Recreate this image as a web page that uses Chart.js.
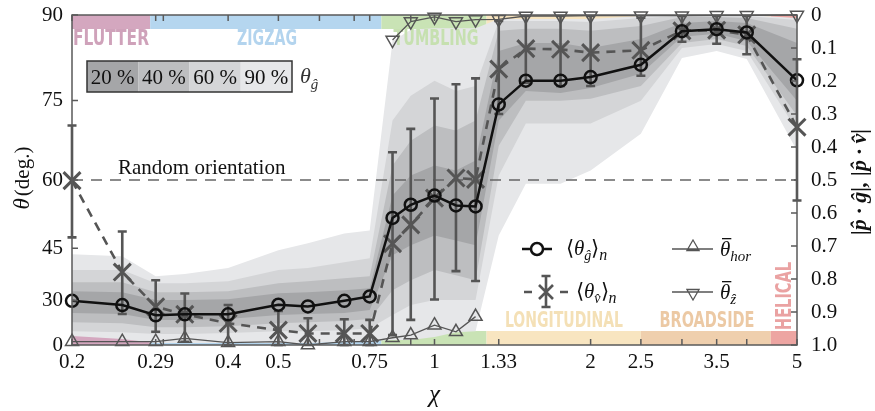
<!DOCTYPE html>
<html>
<head>
<meta charset="utf-8">
<script src="https://cdn.jsdelivr.net/npm/chart.js@4/dist/chart.umd.min.js"></script>
<style>
  html, body { margin: 0; padding: 0; background: #fff; }
  canvas { display: block; }
</style>
</head>
<body>
<canvas id="chart" width="875" height="411"></canvas>
<script>
// all values are in |p.g| units (= cos theta), i.e. the right-hand axis
const chi = [0.2, 0.25, 0.29, 0.33, 0.4, 0.5, 0.57, 0.67, 0.75, 0.83, 0.9, 1, 1.1, 1.2, 1.33, 1.5, 1.75, 2, 2.5, 3, 3.5, 4, 5];

const thetaG = [0.866, 0.879, 0.910, 0.907, 0.907, 0.878, 0.883, 0.866, 0.853, 0.615, 0.575, 0.547, 0.577, 0.580, 0.271, 0.199, 0.199, 0.188, 0.151, 0.049, 0.043, 0.053, 0.198];
const thetaV = [0.502, 0.779, 0.884, 0.907, 0.934, 0.955, 0.965, 0.965, 0.965, 0.693, 0.636, 0.555, 0.494, 0.498, 0.164, 0.102, 0.104, 0.114, 0.107, 0.048, 0.046, 0.060, 0.340];
const thetaVLow = [0.335, 0.656, 0.804, 0.844, 0.879, 0.897, 0.919, 0.922, 0.924, 0.416, 0.345, 0.253, 0.210, 0.192, 0.018, 0.003, 0.003, 0.003, 0.008, 0.003, 0.003, 0.003, 0.134];
const thetaVHigh = [0.674, 0.906, 0.960, 0.990, 1.0, 1.0, 1.0, 1.0, 1.0, 0.970, 0.924, 0.862, 0.776, 0.806, 0.300, 0.205, 0.215, 0.215, 0.184, 0.081, 0.087, 0.119, 0.562];

const chiHor = chi.slice(0, 14);
const thetaHor = [0.990, 0.990, 0.990, 0.980, 0.993, 0.990, 1.0, 0.990, 0.990, 0.978, 0.970, 0.940, 0.960, 0.914];
const chiZ = chi.slice(9);
const thetaZ = [0.076, 0.020, 0.006, 0.020, 0.014, 0.013, 0.003, 0.003, 0.002, 0.002, 0.002, 0.001, 0.001, 0.0];

// percentile envelopes of theta_g
const band90Top = [0.725, 0.731, 0.792, 0.785, 0.767, 0.713, 0.692, 0.662, 0.653, 0.079, 0.045, 0.040, 0.040, 0.040, 0.012, 0.012, 0.012, 0.012, 0.003, 0, 0, 0, 0.009];
const band60Top = [0.773, 0.773, 0.813, 0.813, 0.807, 0.773, 0.767, 0.749, 0.737, 0.320, 0.245, 0.199, 0.230, 0.215, 0.018, 0.018, 0.018, 0.021, 0.009, 0.003, 0.003, 0.003, 0.015];
const band40Top = [0.810, 0.810, 0.840, 0.840, 0.837, 0.813, 0.807, 0.798, 0.792, 0.456, 0.381, 0.335, 0.350, 0.320, 0.048, 0.042, 0.042, 0.048, 0.033, 0.006, 0.006, 0.009, 0.042];
const band20Top = [0.837, 0.840, 0.864, 0.864, 0.861, 0.843, 0.840, 0.834, 0.828, 0.547, 0.486, 0.456, 0.471, 0.441, 0.109, 0.085, 0.085, 0.100, 0.073, 0.024, 0.018, 0.024, 0.085];
const band20Bot = [0.903, 0.906, 0.924, 0.924, 0.921, 0.909, 0.906, 0.903, 0.894, 0.728, 0.698, 0.668, 0.683, 0.698, 0.320, 0.230, 0.236, 0.221, 0.178, 0.066, 0.057, 0.079, 0.260];
const band40Bot = [0.931, 0.934, 0.946, 0.946, 0.943, 0.934, 0.931, 0.927, 0.921, 0.834, 0.804, 0.773, 0.789, 0.804, 0.396, 0.260, 0.260, 0.254, 0.215, 0.085, 0.073, 0.094, 0.305];
const band60Bot = [0.958, 0.961, 0.967, 0.967, 0.964, 0.958, 0.958, 0.955, 0.949, 0.909, 0.879, 0.864, 0.864, 0.864, 0.486, 0.329, 0.329, 0.329, 0.260, 0.100, 0.088, 0.109, 0.350];
const band90Bot = [0.973, 0.982, 0.994, 0.994, 0.994, 0.994, 0.994, 0.991, 0.988, 0.985, 0.985, 0.976, 0.961, 0.958, 0.668, 0.511, 0.511, 0.471, 0.360, 0.130, 0.109, 0.133, 0.411];
const bandLabels = ['20 %', '40 %', '60 %', '90 %'];

const randomLevel = 0.5;

const regimeNames = ['FLUTTER', 'ZIGZAG', 'TUMBLING', 'LONGITUDINAL', 'BROADSIDE', 'HELICAL'];
const regimeEdges = [0.2, 0.283, 0.79, 1.26, 2.5, 4.45, 5];

const xTicks = [0.2, 0.29, 0.4, 0.5, 0.75, 1, 1.33, 2, 2.5, 3.5, 5];
const xMinorTicks = [0.3, 0.6, 0.7, 0.9, 3, 4];
const thetaTicks = [90, 75, 60, 45, 30, 0];
const rightTicks = [0, 0.1, 0.2, 0.3, 0.4, 0.5, 0.6, 0.7, 0.8, 0.9, 1.0];

const SERIF = '"Liberation Serif", "Times New Roman", Times, serif';
const NARROW = '"Liberation Sans Narrow", "Arial Narrow", "DejaVu Sans Condensed", "Liberation Sans", Arial, sans-serif';
const AXIS = '#5a5a5a';
const DARK = '#555';
const bandColors = ['#a5a6a8', '#bdbec0', '#d4d5d7', '#e6e7e9'];
const regimeColors = ['#d4a7bf', '#b5d6ef', '#c9e3b5', '#f8e5c0', '#efcfad', '#eda5a2'];
const regimeText = ['#cfa2ba', '#b3d4ee', '#c6e0b0', '#f4e0b6', '#ecc9a4', '#eaa2a2'];

const toPts = (xs, ys) => xs.map((x, i) => ({ x: x, y: ys[i] }));
const rad = (d) => d * Math.PI / 180;

function band(name, top, bot, color, order) {
	return [
		{ label: name + ' top', data: toPts(chi, top), pointRadius: 0, borderWidth: 0, borderColor: 'rgba(0,0,0,0)', fill: false, order: order },
		{ label: name + ' bot', data: toPts(chi, bot), pointRadius: 0, borderWidth: 0, borderColor: 'rgba(0,0,0,0)', fill: '-1', backgroundColor: color, order: order },
	];
}

function rich(ctx, x, y, parts) {
	parts.forEach(p => {
		ctx.font = p.f;
		ctx.fillText(p.t, x, y + (p.dy || 0));
		const w = ctx.measureText(p.t).width;
		if (p.bar) ctx.fillRect(x + 2, y - 18, w - 1, 1.3);
		x += w + (p.gap || 0);
	});
}

function richWidth(ctx, parts) {
	let w = 0;
	parts.forEach(p => { ctx.font = p.f; w += ctx.measureText(p.t).width + (p.gap || 0); });
	return w;
}

function triangle(ctx, x, y, r, down) {
	const s = down ? -1 : 1;
	ctx.moveTo(x, y - s * r);
	ctx.lineTo(x + r * 0.866, y + s * r * 0.5);
	ctx.lineTo(x - r * 0.866, y + s * r * 0.5);
	ctx.closePath();
}

function drawStrips(chart) {
	const { ctx, chartArea: a, scales: { x } } = chart;
	ctx.save();
	for (let i = 0; i < regimeNames.length; i++) {
		const x0 = x.getPixelForValue(regimeEdges[i]);
		const x1 = x.getPixelForValue(regimeEdges[i + 1]);
		ctx.fillStyle = regimeColors[i];
		ctx.fillRect(x0, a.top, x1 - x0, 14);
		ctx.fillRect(x0, a.bottom - 14, x1 - x0, 14);
	}
	ctx.restore();
}

function drawRegimeLabels(chart) {
	const { ctx, chartArea: a } = chart;
	ctx.save();
	ctx.font = 'bold 21px ' + NARROW;
	ctx.textBaseline = 'middle';
	ctx.textAlign = 'left';
	ctx.fillStyle = regimeText[0];
	ctx.fillText(regimeNames[0], a.left + 1, a.top + 25, 76);
	ctx.textAlign = 'center';
	ctx.fillStyle = regimeText[1];
	ctx.fillText(regimeNames[1], 267, a.top + 25, 60);
	ctx.fillStyle = regimeText[2];
	ctx.fillText(regimeNames[2], 436, a.top + 25, 85);
	ctx.fillStyle = regimeText[3];
	ctx.fillText(regimeNames[3], 564, a.bottom - 23, 118);
	ctx.fillStyle = regimeText[4];
	ctx.fillText(regimeNames[4], 707, a.bottom - 23, 95);
	ctx.translate(786, 296);
	ctx.rotate(-Math.PI / 2);
	ctx.fillStyle = regimeText[5];
	ctx.fillText(regimeNames[5], 0, 0, 68);
	ctx.restore();
}

function drawErrorBars(chart) {
	const { ctx, scales: { x, y } } = chart;
	ctx.save();
	ctx.strokeStyle = DARK;
	ctx.lineWidth = 2.6;
	chi.forEach((c, i) => {
		const px = x.getPixelForValue(c);
		const y1 = y.getPixelForValue(thetaVLow[i]);
		const y2 = y.getPixelForValue(thetaVHigh[i]);
		ctx.beginPath();
		ctx.moveTo(px, y1); ctx.lineTo(px, y2);
		ctx.moveTo(px - 4.5, y1); ctx.lineTo(px + 4.5, y1);
		ctx.moveTo(px - 4.5, y2); ctx.lineTo(px + 4.5, y2);
		ctx.stroke();
	});
	ctx.restore();
}

function drawFrame(chart) {
	const { ctx, chartArea: a, scales: { x, y } } = chart;
	ctx.save();
	ctx.strokeStyle = AXIS;
	ctx.lineWidth = 1.5;
	ctx.strokeRect(a.left, a.top, a.right - a.left, a.bottom - a.top);
	ctx.beginPath();
	xTicks.concat(xMinorTicks).forEach(v => {
		const px = x.getPixelForValue(v);
		ctx.moveTo(px, a.bottom); ctx.lineTo(px, a.bottom - 6);
		ctx.moveTo(px, a.top); ctx.lineTo(px, a.top + 6);
	});
	thetaTicks.forEach(d => {
		const py = y.getPixelForValue(Math.cos(rad(d)));
		ctx.moveTo(a.left, py); ctx.lineTo(a.left + 6, py);
	});
	rightTicks.forEach(v => {
		const py = y.getPixelForValue(v);
		ctx.moveTo(a.right, py); ctx.lineTo(a.right - 6, py);
	});
	ctx.stroke();
	ctx.restore();
}

function drawTexts(chart) {
	const { ctx, chartArea: a } = chart;
	ctx.save();
	ctx.fillStyle = '#111';
	ctx.textBaseline = 'alphabetic';
	ctx.textAlign = 'left';

	// reference line label
	ctx.font = '21px ' + SERIF;
	ctx.fillText('Random orientation', 118, 174);

	// percentile legend box
	const bx = 87, by = 61, cw = 51.25, bh = 31;
	bandLabels.forEach((t, i) => {
		ctx.fillStyle = bandColors[i];
		ctx.fillRect(bx + i * cw, by, cw, bh);
		ctx.fillStyle = '#111';
		ctx.textAlign = 'center';
		ctx.font = '21px ' + SERIF;
		ctx.fillText(t, bx + i * cw + cw / 2, by + 23);
	});
	ctx.strokeStyle = '#333';
	ctx.lineWidth = 1.5;
	ctx.strokeRect(bx, by, cw * 4, bh);
	ctx.textAlign = 'left';
	ctx.fillStyle = '#333';
	rich(ctx, 300, by + 22, [
		{ t: '\u03b8', f: 'italic 22px ' + SERIF },
		{ t: 'g\u0302', f: 'italic 15px ' + SERIF, dy: 6 },
	]);

	// series legend
	ctx.lineWidth = 2.5;
	ctx.strokeStyle = '#111';
	ctx.beginPath();
	ctx.moveTo(522, 249); ctx.lineTo(531, 249);
	ctx.moveTo(543, 249); ctx.lineTo(552, 249);
	ctx.arc(537, 249, 6, 0, Math.PI * 2);
	ctx.stroke();
	ctx.fillStyle = '#111';
	rich(ctx, 566, 255, [
		{ t: '\u27e8', f: '21px ' + SERIF },
		{ t: '\u03b8', f: 'italic 21px ' + SERIF },
		{ t: 'g\u0302', f: 'italic 14px ' + SERIF, dy: 5 },
		{ t: '\u27e9', f: '21px ' + SERIF },
		{ t: 'n', f: 'italic 16px ' + SERIF, dy: 5 },
	]);

	ctx.strokeStyle = DARK;
	ctx.lineWidth = 2.6;
	ctx.beginPath();
	ctx.moveTo(524, 292); ctx.lineTo(532, 292);
	ctx.moveTo(560, 292); ctx.lineTo(568, 292);
	ctx.moveTo(546, 276); ctx.lineTo(546, 307);
	ctx.moveTo(541.5, 276); ctx.lineTo(550.5, 276);
	ctx.moveTo(541.5, 307); ctx.lineTo(550.5, 307);
	ctx.moveTo(539, 285); ctx.lineTo(553, 299);
	ctx.moveTo(553, 285); ctx.lineTo(539, 299);
	ctx.stroke();
	ctx.fillStyle = '#111';
	rich(ctx, 576, 298, [
		{ t: '\u27e8', f: '21px ' + SERIF },
		{ t: '\u03b8', f: 'italic 21px ' + SERIF },
		{ t: 'v\u0302', f: 'italic 14px ' + SERIF, dy: 5 },
		{ t: '\u27e9', f: '21px ' + SERIF },
		{ t: 'n', f: 'italic 16px ' + SERIF, dy: 5 },
	]);

	ctx.strokeStyle = DARK;
	ctx.lineWidth = 1.3;
	ctx.beginPath();
	ctx.moveTo(672, 249); ctx.lineTo(713, 249);
	triangle(ctx, 693, 247, 7, false);
	ctx.moveTo(672, 292); ctx.lineTo(713, 292);
	triangle(ctx, 693, 293, 7, true);
	ctx.stroke();
	ctx.fillStyle = '#111';
	rich(ctx, 720, 256, [
		{ t: '\u03b8', f: 'italic 21px ' + SERIF, bar: true },
		{ t: 'hor', f: 'italic 15px ' + SERIF, dy: 5 },
	]);
	rich(ctx, 720, 299, [
		{ t: '\u03b8', f: 'italic 21px ' + SERIF, bar: true },
		{ t: 'z\u0302', f: 'italic 15px ' + SERIF, dy: 5 },
	]);

	// axis titles
	ctx.textAlign = 'center';
	ctx.font = 'italic 25px ' + SERIF;
	ctx.fillText('\u03c7', (a.left + a.right) / 2, 402);

	ctx.textAlign = 'left';
	const leftParts = [
		{ t: '\u03b8', f: 'italic 23px ' + SERIF, gap: 2 },
		{ t: '(deg.)', f: '21px ' + SERIF },
	];
	ctx.save();
	ctx.translate(29, 178);
	ctx.rotate(-Math.PI / 2);
	rich(ctx, -richWidth(ctx, leftParts) / 2, 0, leftParts);
	ctx.restore();

	const rightParts = [{ t: '|p\u0302 \u00b7 g\u0302|, |p\u0302 \u00b7 v\u0302|', f: 'bold italic 22px ' + SERIF }];
	ctx.save();
	ctx.translate(866, 182);
	ctx.rotate(-Math.PI / 2);
	rich(ctx, -richWidth(ctx, rightParts) / 2, 0, rightParts);
	ctx.restore();

	ctx.restore();
}

const decor = {
	id: 'decor',
	beforeDatasetsDraw(chart) { drawStrips(chart); },
	afterDatasetDraw(chart, args) {
		if (args.index === 4) drawRegimeLabels(chart);
		if (args.index === 1) drawErrorBars(chart);
	},
	afterDraw(chart) {
		drawFrame(chart);
		drawTexts(chart);
	},
};

const datasets = [
	{
		label: 'theta_g', data: toPts(chi, thetaG), order: 0, clip: false,
		borderColor: '#111', borderWidth: 2.5, tension: 0,
		pointStyle: 'circle', pointRadius: 6, pointBorderWidth: 2.5,
		pointBorderColor: '#111', pointBackgroundColor: 'rgba(0,0,0,0)',
	},
	{
		label: 'theta_v', data: toPts(chi, thetaV), order: 1, clip: false,
		borderColor: DARK, borderWidth: 2.6, borderDash: [9, 7], tension: 0,
		pointStyle: 'crossRot', pointRadius: 12, pointBorderWidth: 3,
		pointBorderColor: DARK, pointBackgroundColor: DARK,
	},
	{
		label: 'theta_hor', data: toPts(chiHor, thetaHor), order: 2, clip: false,
		borderColor: DARK, borderWidth: 1.3, tension: 0,
		pointStyle: 'triangle', pointRadius: 7.5, pointBorderWidth: 1.5,
		pointBorderColor: DARK, pointBackgroundColor: 'rgba(0,0,0,0)',
	},
	{
		label: 'theta_z', data: toPts(chiZ, thetaZ), order: 3, clip: false,
		borderColor: DARK, borderWidth: 1.3, tension: 0,
		pointStyle: 'triangle', pointRotation: 180, pointRadius: 7.5, pointBorderWidth: 1.5,
		pointBorderColor: DARK, pointBackgroundColor: 'rgba(0,0,0,0)',
	},
	{
		label: 'random', data: [{ x: chi[0], y: randomLevel }, { x: chi[chi.length - 1], y: randomLevel }], order: 4,
		borderColor: '#666', borderWidth: 1.3, borderDash: [11, 8], pointRadius: 0,
	},
	...band('p20', band20Top, band20Bot, bandColors[0], 5),
	...band('p40', band40Top, band40Bot, bandColors[1], 6),
	...band('p60', band60Top, band60Bot, bandColors[2], 7),
	...band('p90', band90Top, band90Bot, bandColors[3], 8),
];

const tickFont = { family: SERIF, size: 21 };

// the tick labels must not push the plot area down
function noVPad(scale, width) {
	scale.width = width;
	scale.paddingTop = 0;
	scale.paddingBottom = 0;
}

new Chart(document.getElementById('chart').getContext('2d'), {
	type: 'line',
	data: { datasets: datasets },
	plugins: [decor],
	options: {
		responsive: false,
		animation: false,
		devicePixelRatio: 1,
		events: [],
		layout: { padding: { top: 14, left: 0, right: 0, bottom: 0 } },
		plugins: { legend: { display: false }, tooltip: { enabled: false } },
		scales: {
			x: {
				type: 'logarithmic', min: 0.2, max: 5,
				grid: { display: false, drawTicks: false, tickLength: 0 },
				border: { display: false },
				afterBuildTicks: (scale) => { scale.ticks = xTicks.map(v => ({ value: v })); },
				afterFit: (scale) => { scale.height = 66; scale.paddingLeft = 0; scale.paddingRight = 0; },
				ticks: {
					autoSkip: false, maxRotation: 0, minRotation: 0, padding: 5,
					color: '#111', font: tickFont,
					callback: (v) => String(v),
				},
			},
			y: {
				type: 'linear', position: 'left', min: 0, max: 1, reverse: true,
				grid: { display: false, drawTicks: false, tickLength: 0 },
				border: { display: false },
				afterBuildTicks: (scale) => { scale.ticks = thetaTicks.map(d => ({ value: Math.cos(rad(d)) })); },
				afterFit: (scale) => noVPad(scale, 72),
				ticks: {
					padding: 9, color: '#111', font: tickFont,
					callback: (v) => String(Math.round(Math.acos(Math.min(1, v)) * 180 / Math.PI)),
				},
			},
			y2: {
				type: 'linear', position: 'right', min: 0, max: 1, reverse: true,
				grid: { display: false, drawTicks: false, tickLength: 0 },
				border: { display: false },
				afterBuildTicks: (scale) => { scale.ticks = rightTicks.map(v => ({ value: v })); },
				afterFit: (scale) => noVPad(scale, 78),
				ticks: {
					padding: 14, color: '#111', font: tickFont,
					callback: (v) => (v === 0 ? '0' : v.toFixed(1)),
				},
			},
		},
	},
});
</script>
</body>
</html>
